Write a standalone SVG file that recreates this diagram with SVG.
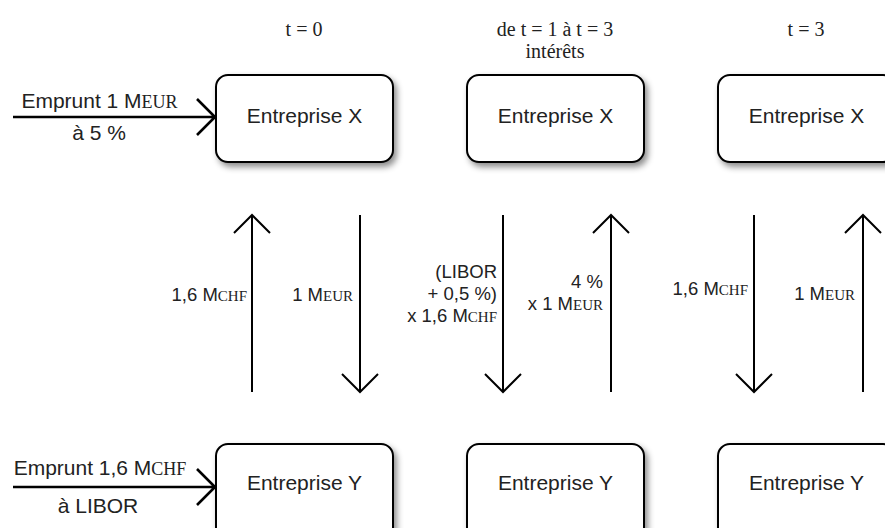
<svg xmlns="http://www.w3.org/2000/svg" width="885" height="528" viewBox="0 0 885 528">
<defs>
<filter id="sh" x="-10%" y="-10%" width="130%" height="140%">
<feDropShadow dx="3" dy="4" stdDeviation="3" flood-color="#000" flood-opacity="0.45"/>
</filter>
</defs>
<style>
.box{fill:#fff;stroke:#000;stroke-width:2;filter:url(#sh)}
.bt{font-family:"Liberation Sans",Arial,sans-serif;font-size:21px;fill:#222;text-anchor:middle}
.lb{font-family:"Liberation Sans",Arial,sans-serif;font-size:18.5px;fill:#222;text-anchor:end}
.ll{font-family:"Liberation Sans",Arial,sans-serif;font-size:21px;fill:#222;text-anchor:middle}
.hd{font-family:"Liberation Serif","Times New Roman",serif;font-size:20px;fill:#222;text-anchor:middle}
.sc{font-family:"Liberation Serif","Times New Roman",serif;font-size:15px}
.scl{font-family:"Liberation Serif","Times New Roman",serif;font-size:18px}
.ar{fill:none;stroke:#000;stroke-width:2}
.arl{fill:none;stroke:#000;stroke-width:2.6}
</style>
<rect width="885" height="528" fill="#fff"/>
<g id="headers">
<text class="hd" x="304" y="36">t = 0</text>
<text class="hd" x="555" y="36">de t = 1 à t = 3</text>
<text class="hd" x="555" y="58">intérêts</text>
<text class="hd" x="806" y="36">t = 3</text>
</g>
<g id="x1"><rect class="box" x="216" y="75" width="177" height="87" rx="12"/><text class="bt" x="304.5" y="123">Entreprise X</text></g>
<g id="x2"><rect class="box" x="467" y="75" width="177" height="87" rx="12"/><text class="bt" x="555.5" y="123">Entreprise X</text></g>
<g id="x3"><rect class="box" x="718" y="75" width="177" height="87" rx="12"/><text class="bt" x="806.5" y="123">Entreprise X</text></g>
<g id="y1"><rect class="box" x="216" y="444" width="177" height="100" rx="12"/><text class="bt" x="304.5" y="490">Entreprise Y</text></g>
<g id="y2"><rect class="box" x="467" y="444" width="177" height="100" rx="12"/><text class="bt" x="555.5" y="490">Entreprise Y</text></g>
<g id="y3"><rect class="box" x="718" y="444" width="177" height="100" rx="12"/><text class="bt" x="806.5" y="490">Entreprise Y</text></g>
<g id="connectors">
<path class="arl" d="M13 117H215M197 99L215 117L197 135"/>
<path class="arl" d="M13 487H215M197 469L215 487L197 505"/>
<path class="ar" d="M252 392V215M234 233L252 215L270 233"/>
<path class="ar" d="M360 215V392M342 374L360 392L378 374"/>
<path class="ar" d="M503 215V392M485 374L503 392L521 374"/>
<path class="ar" d="M611 392V215M593 233L611 215L629 233"/>
<path class="ar" d="M754 215V392M736 374L754 392L772 374"/>
<path class="ar" d="M863 392V215M845 233L863 215L881 233"/>
</g>
<g id="labels">
<text class="ll" x="99.5" y="108">Emprunt 1 M<tspan class="scl">EUR</tspan></text>
<text class="ll" x="99" y="140">à 5 %</text>
<text class="ll" x="100" y="475">Emprunt 1,6 M<tspan class="scl">CHF</tspan></text>
<text class="ll" x="98" y="513">à LIBOR</text>
<text class="lb" x="247" y="301">1,6 M<tspan class="sc">CHF</tspan></text>
<text class="lb" x="353" y="301">1 M<tspan class="sc">EUR</tspan></text>
<text class="lb" x="497" y="278">(LIBOR</text>
<text class="lb" x="497" y="300">+ 0,5 %)</text>
<text class="lb" x="497" y="322">x 1,6 M<tspan class="sc">CHF</tspan></text>
<text class="lb" x="603" y="288">4 %</text>
<text class="lb" x="603" y="310">x 1 M<tspan class="sc">EUR</tspan></text>
<text class="lb" x="748" y="295">1,6 M<tspan class="sc">CHF</tspan></text>
<text class="lb" x="855" y="300">1 M<tspan class="sc">EUR</tspan></text>
</g>
</svg>
